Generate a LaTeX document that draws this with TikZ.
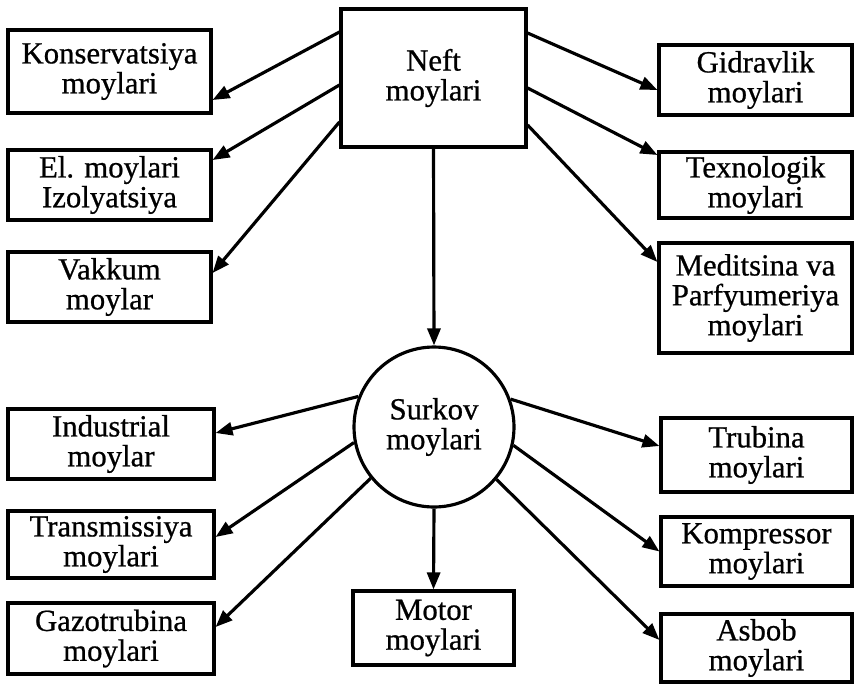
\documentclass[tikz,border=0pt]{standalone}
\usepackage{fontspec}
\setmainfont{Liberation Serif}
\newfontfamily\blokfont{Liberation Serif}[FakeBold=0.7]
\usetikzlibrary{arrows.meta}
\tikzset{
  blok/.style={draw, line width=1.8pt, align=center, inner sep=1pt,
    font=\blokfont\fontsize{17.5}{17}\selectfont},
  doira/.style={blok, circle, minimum size=3.2cm},
}
\begin{document}
\begin{tikzpicture}[x=0.02cm, y=-0.02cm, line width=1.8pt, >={Triangle[length=0.34cm, width=0.26cm]}]
  \useasboundingbox (0,0) rectangle (855,684);
  % Markaziy bloklar
  \node[blok, minimum width=3.7cm, minimum height=2.76cm] (neft) at (433.5,78) {Neft\\moylari};
  \node[doira] (surk) at (434,427) {Surkov\\moylari};

  % Chap ustun
  \node[blok, minimum width=4.06cm, minimum height=1.66cm] (kons) at (109.5,71.5) {Konservatsiya\\moylari};
  \node[blok, minimum width=4.06cm, minimum height=1.4cm] (elm) at (109.5,185) {El. moylari\\Izolyatsiya};
  \node[blok, minimum width=4.06cm, minimum height=1.4cm] (vak) at (109.5,287) {Vakkum\\moylar};
  \node[blok, minimum width=4.12cm, minimum height=1.4cm] (ind) at (111,444) {Industrial\\moylar};
  \node[blok, minimum width=4.12cm, minimum height=1.34cm] (tra) at (111,544.5) {Transmissiya\\moylari};
  \node[blok, minimum width=4.12cm, minimum height=1.42cm] (gaz) at (111,638.5) {Gazotrubina\\moylari};

  % O'ng ustun
  \node[blok, minimum width=3.86cm, minimum height=1.4cm] (gid) at (755.5,80) {Gidravlik\\moylari};
  \node[blok, minimum width=3.86cm, minimum height=1.32cm] (tex) at (755.5,185) {Texnologik\\moylari};
  \node[blok, minimum width=3.86cm, minimum height=2.2cm] (med) at (755.5,298) {Meditsina va\\Parfyumeriya\\moylari};
  \node[blok, minimum width=3.82cm, minimum height=1.48cm] (tru) at (756.5,455) {Trubina\\moylari};
  \node[blok, minimum width=3.82cm, minimum height=1.38cm] (kom) at (756.5,551.5) {Kompressor\\moylari};
  \node[blok, minimum width=3.82cm, minimum height=1.36cm] (asb) at (756.5,648) {Asbob\\moylari};

  % Pastki blok
  \node[blok, minimum width=3.22cm, minimum height=1.48cm] (mot) at (433.5,628) {Motor\\moylari};

  % Neft moylaridan strelkalar
  \draw[->] ([yshift=0.92cm]neft.west) -- ([yshift=-0.57cm]kons.east);
  \draw[->] ([yshift=-0.14cm]neft.west) -- ([yshift=0.5cm]elm.east);
  \draw[->] ([yshift=-0.88cm]neft.west) -- ([yshift=0.28cm]vak.east);
  \draw[->] ([yshift=0.9cm]neft.east) -- ([yshift=-0.2cm]gid.west);
  \draw[->] ([yshift=-0.2cm]neft.east) -- ([yshift=0.6cm]tex.west);
  \draw[->] ([yshift=-0.94cm]neft.east) -- ([yshift=0.72cm]med.west);
  \draw[->] (neft.south) -- (surk.north);

  % Surkov moylaridan strelkalar
  \draw[->] (surk.158) -- ([yshift=0.22cm]ind.east);
  \draw[->] (surk.191) -- ([yshift=0.15cm]tra.east);
  \draw[->] (surk.219) -- ([yshift=0.23cm]gaz.east);
  \draw[->] (surk.south) -- (mot.north);
  \draw[->] (surk.20) -- ([yshift=0.18cm]tru.west);
  \draw[->] (surk.-13) -- (kom.west);
  \draw[->] (surk.-40) -- ([yshift=0.16cm]asb.west);
\end{tikzpicture}
\end{document}
